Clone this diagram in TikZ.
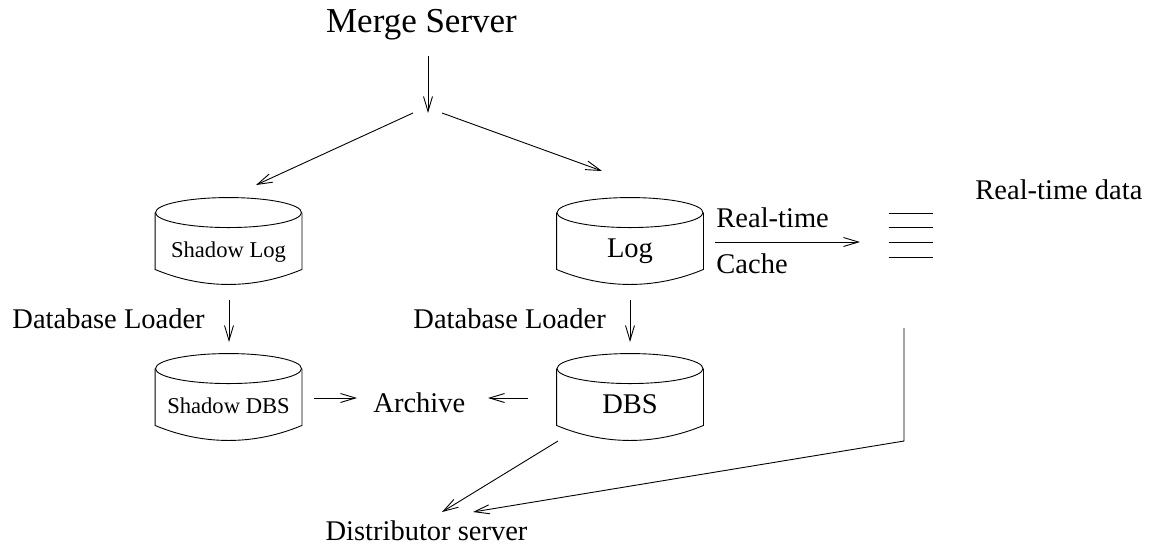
\documentclass[tikz,border=0pt]{standalone}
\usepackage{fontspec}
\setmainfont{Liberation Serif}
\usetikzlibrary{arrows.meta}

% drum outline: top ellipse, straight sides, shallow curved bottom
\newcommand\drum[1]{%
  \draw ([yshift=-15pt]#1.north) ellipse [x radius=73pt, y radius=15pt];
  \draw ([yshift=-15pt]#1.north west) -- ([yshift=15pt]#1.south west)
    .. controls ([xshift=48pt,yshift=-5pt]#1.south west)
       and ([xshift=-48pt,yshift=-5pt]#1.south east)
    .. ([yshift=15pt]#1.south east) -- ([yshift=-15pt]#1.north east);}

\begin{document}
\begin{tikzpicture}[x=1pt, y=-1pt, line width=0.9pt,
  >={Straight Barb[length=15pt,width=9pt]},
  txt/.style={inner sep=0pt, font=\fontsize{28.5}{34}\selectfont},
  bigtxt/.style={inner sep=0pt, font=\fontsize{35}{42}\selectfont},
  drumbox/.style={minimum width=146pt, minimum height=86pt, inner sep=0pt,
    text height=40pt, text depth=8pt},
  drumsmall/.style={drumbox, font=\fontsize{22.6}{27}\selectfont},
  drumlarge/.style={drumbox, font=\fontsize{28.5}{34}\selectfont},
  flow/.style={->}]

\useasboundingbox (0,0) rectangle (1150,550);

% labels
\node[bigtxt, anchor=base] (merge) at (421.5,32) {Merge Server};
\node[txt, anchor=base west] (ldl) at (12,328) {Database Loader};
\node[txt, anchor=base west] (rdl) at (413,328) {Database Loader};
\node[txt, anchor=base west] (arch) at (373,412) {Archive};
\node[txt, anchor=base west] (rt) at (716,227) {Real-time};
\node[txt, anchor=base west] (cache) at (716,273) {Cache};
\node[txt, anchor=base west] (rtd) at (975,199) {Real-time data};
\node[txt, anchor=base] (dist) at (426.5,540) {Distributor server};

% storage drums
\node[drumsmall] (slog) at (228.5,241) {Shadow Log};
\node[drumlarge] (log) at (630,241) {Log};
\node[drumsmall] (sdbs) at (228.5,397) {Shadow DBS};
\node[drumlarge] (dbs) at (630,397) {DBS};
\drum{slog}
\drum{log}
\drum{sdbs}
\drum{dbs}

% real-time data buffer
\node[minimum width=44pt, minimum height=44pt, inner sep=0pt] (buf) at (911,235) {};
\foreach \dy in {-22,-7.5,7,22} {
  \draw (buf.west) ++(0,\dy) -- ++(44,0);
}

% connector end points
\coordinate (m-out) at (428,56);
\coordinate (fork) at (428,113);
\coordinate (fl) at (413,113);
\coordinate (fr) at (442,113);
\coordinate (slog-in) at (256,185);
\coordinate (log-in) at (602,171);
\coordinate (slog-out) at (229,300);
\coordinate (sdbs-in) at (229,342);
\coordinate (log-out) at (630,300);
\coordinate (dbs-in) at (630,342);
\coordinate (sdbs-out) at (314,398);
\coordinate (arch-l) at (357,398);
\coordinate (dbs-out) at (528,398);
\coordinate (arch-r) at (488,398);
\coordinate (log-rt) at (715,242);
\coordinate (buf-in) at (860,242);
\coordinate (dbs-low) at (558,441);
\coordinate (dist-a) at (442,512);
\coordinate (buf-out) at (904,328);
\coordinate (corner) at (904,441);
\coordinate (dist-b) at (473,512);

% connectors
\draw[flow] (m-out) -- (fork);
\draw[flow] (fl) -- (slog-in);
\draw[flow] (fr) -- (log-in);
\draw[flow] (slog-out) -- (sdbs-in);
\draw[flow] (log-out) -- (dbs-in);
\draw[flow] (sdbs-out) -- (arch-l);
\draw[flow] (dbs-out) -- (arch-r);
\draw[flow] (log-rt) -- (buf-in);
\draw[flow] (dbs-low) -- (dist-a);
\draw[flow] (buf-out) -- (corner) -- (dist-b);

\end{tikzpicture}
\end{document}
